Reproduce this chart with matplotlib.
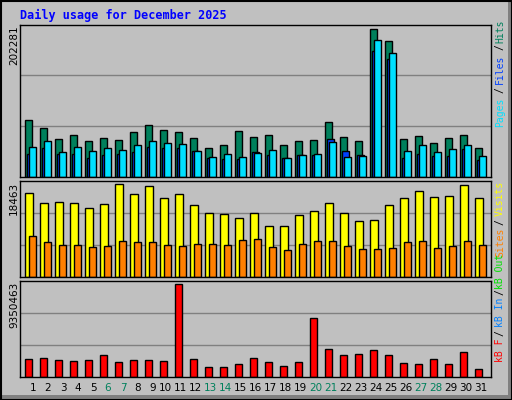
import matplotlib
matplotlib.use("Agg")
import matplotlib.pyplot as plt
from matplotlib.patches import Rectangle
from matplotlib.transforms import blended_transform_factory

days = list(range(1, 32))
weekend = [6, 7, 13, 14, 20, 21, 27, 28]

hits = [78707, 67725, 52624, 58115, 49878, 53997, 51251, 62234, 71843, 64979,
        62234, 53997, 40269, 44387, 63606, 55370, 58115, 44387, 49878, 51251,
        75962, 55370, 49878, 202281, 185786, 52624, 56742, 47133, 53997, 58115, 40269]
files = [32032, 40269, 32032, 32032, 26541, 30659, 32032, 34778, 41642, 40269,
         40269, 36150, 26541, 25168, 25168, 34778, 30659, 26541, 30659, 30659,
         52624, 36150, 30659, 172058, 161075, 26541, 32032, 29286, 29286, 38896, 23795]
pages = [41642, 49878, 34778, 41642, 36150, 40269, 37523, 44387, 49878, 47133,
         45760, 36150, 27914, 32032, 27914, 33405, 37523, 26541, 30659, 32032,
         48506, 27914, 29286, 187158, 169312, 36150, 44387, 34778, 38896, 44387, 29286]
visits = [16658, 14651, 14852, 14651, 13648, 14450, 18463, 16457, 18063, 15655,
          16457, 14250, 12644, 12443, 11641, 12644, 10236, 10236, 12243, 13046,
          14651, 12644, 11239, 11440, 14250, 15655, 17060, 15855, 16056, 18264, 15655]
sites = [8229, 7025, 6422, 6422, 6021, 6222, 7225, 7025, 7025, 6422,
         6222, 6623, 6623, 6422, 7426, 7627, 6021, 5419, 6623, 7225,
         7225, 6222, 5620, 5620, 5820, 7025, 7225, 5820, 6222, 7225, 6422]
kbytes = [1774552, 1876930, 1672174, 1569796, 1672174, 2184064, 1467418, 1672174,
          1672174, 1569796, 9350463, 1774552, 955528, 955528, 1262662, 1876930,
          1467418, 1057906, 1467418, 5972050, 2798332, 2184064, 2286442, 2695954,
          2184064, 1365040, 1262662, 1774552, 1262662, 2491198, 750772]

W, H = 512, 400
BG = "#C0C0C0"
fig = plt.figure(figsize=(W / 100, H / 100), dpi=100, facecolor=BG)


def px_rect(x0, y0, x1, y1):
    return [x0 / W, 1 - y1 / H, (x1 - x0) / W, (y1 - y0) / H]


# Bevelled frame
fig.patches.append(Rectangle((0, 0), 1, 1, transform=fig.transFigure,
                             facecolor="#808080", edgecolor="none", zorder=-3))
fig.patches.append(Rectangle((2 / W, 5 / H), (W - 6) / W, (H - 7) / H, transform=fig.transFigure,
                             facecolor=BG, edgecolor="none", zorder=-2))
fig.patches.append(Rectangle((0.5 / W, 0.5 / H), (W - 1) / W, (H - 1) / H, transform=fig.transFigure,
                             facecolor="none", edgecolor="black", lw=1.5, zorder=-1))

panels = [(24.5, 177), (180.5, 277), (280.5, 376.5)]
ymaxes = [209000, 19200, 9730000]
axes = []
for (y0, y1), ymax in zip(panels, ymaxes):
    ax = fig.add_axes(px_rect(20, y0, 491, y1))
    ax.set_facecolor(BG)
    ax.set_xlim(0.5, 31.9)
    ax.set_ylim(0, ymax)
    ax.set_yticks([ymax / 3, 2 * ymax / 3])
    ax.yaxis.grid(True, color="#808080", lw=1)
    ax.set_axisbelow(True)
    ax.tick_params(length=0, labelleft=False, labelbottom=False)
    ax.set_xticks([])
    for s in ax.spines.values():
        s.set_color("black")
        s.set_linewidth(1)
    axes.append(ax)

ax1, ax2, ax3 = axes
edge = dict(edgecolor="black", linewidth=1, align="edge")
x0 = [d - 0.147 for d in days]
ax1.bar(x0, hits, width=0.467, color="#00805C", **edge)
ax1.bar([x + 0.133 for x in x0], files, width=0.467, color="#0040FF", **edge)
ax1.bar([x + 0.267 for x in x0], pages, width=0.467, color="#00E0FF", **edge)
ax2.bar(x0, visits, width=0.533, color="#FFFF00", **edge)
ax2.bar([x + 0.267 for x in x0], sites, width=0.467, color="#FF8000", **edge)
ax3.bar(x0, kbytes, width=0.467, color="#FF0000", **edge)

# Day labels
tr = blended_transform_factory(ax3.transData, fig.transFigure)
for d in days:
    xc = d + 0.37 if d < 10 else d + 0.21
    ax3.text(xc, 1 - 388 / H, str(d), transform=tr, ha="center", va="center",
             fontsize=7.5, color="#00805C" if d in weekend else "black")

# Title and max labels
fig.text(20 / W, 1 - 15 / H, "Daily usage for December 2025", color="#0000FF",
         family="DejaVu Sans Mono", weight="bold", fontsize=8.5, va="center", ha="left")
for (y0, _), label in zip(panels, ["202281", "18463", "9350463"]):
    fig.text(14 / W, 1 - (y0 + 1) / H, label, rotation=90, ha="center", va="top",
             fontsize=7.5, color="black")

# Right-side legends (colored segments, rotated)
segments = [
    ("Hits", 31.5, "#00805C"), ("/", 47, "black"), ("Files", 69, "#0040FF"),
    ("/", 90, "black"), ("Pages", 112.5, "#00E0FF"),
    ("Visits", 198.5, "#FFFF00"), ("/", 222, "black"), ("Sites", 242.5, "#FF8000"),
    ("kB Out", 271, "#00E000"), ("/", 292, "black"), ("kB In", 312, "#0080FF"),
    ("/", 333, "black"), ("kB F", 350, "#FF0000"),
]
for txt, yc, col in segments:
    fig.text(500 / W, 1 - yc / H, txt, rotation=90, ha="center", va="center",
             family="DejaVu Sans Mono", fontsize=7, color=col)

fig.savefig("out.png", dpi=100, facecolor=BG)
